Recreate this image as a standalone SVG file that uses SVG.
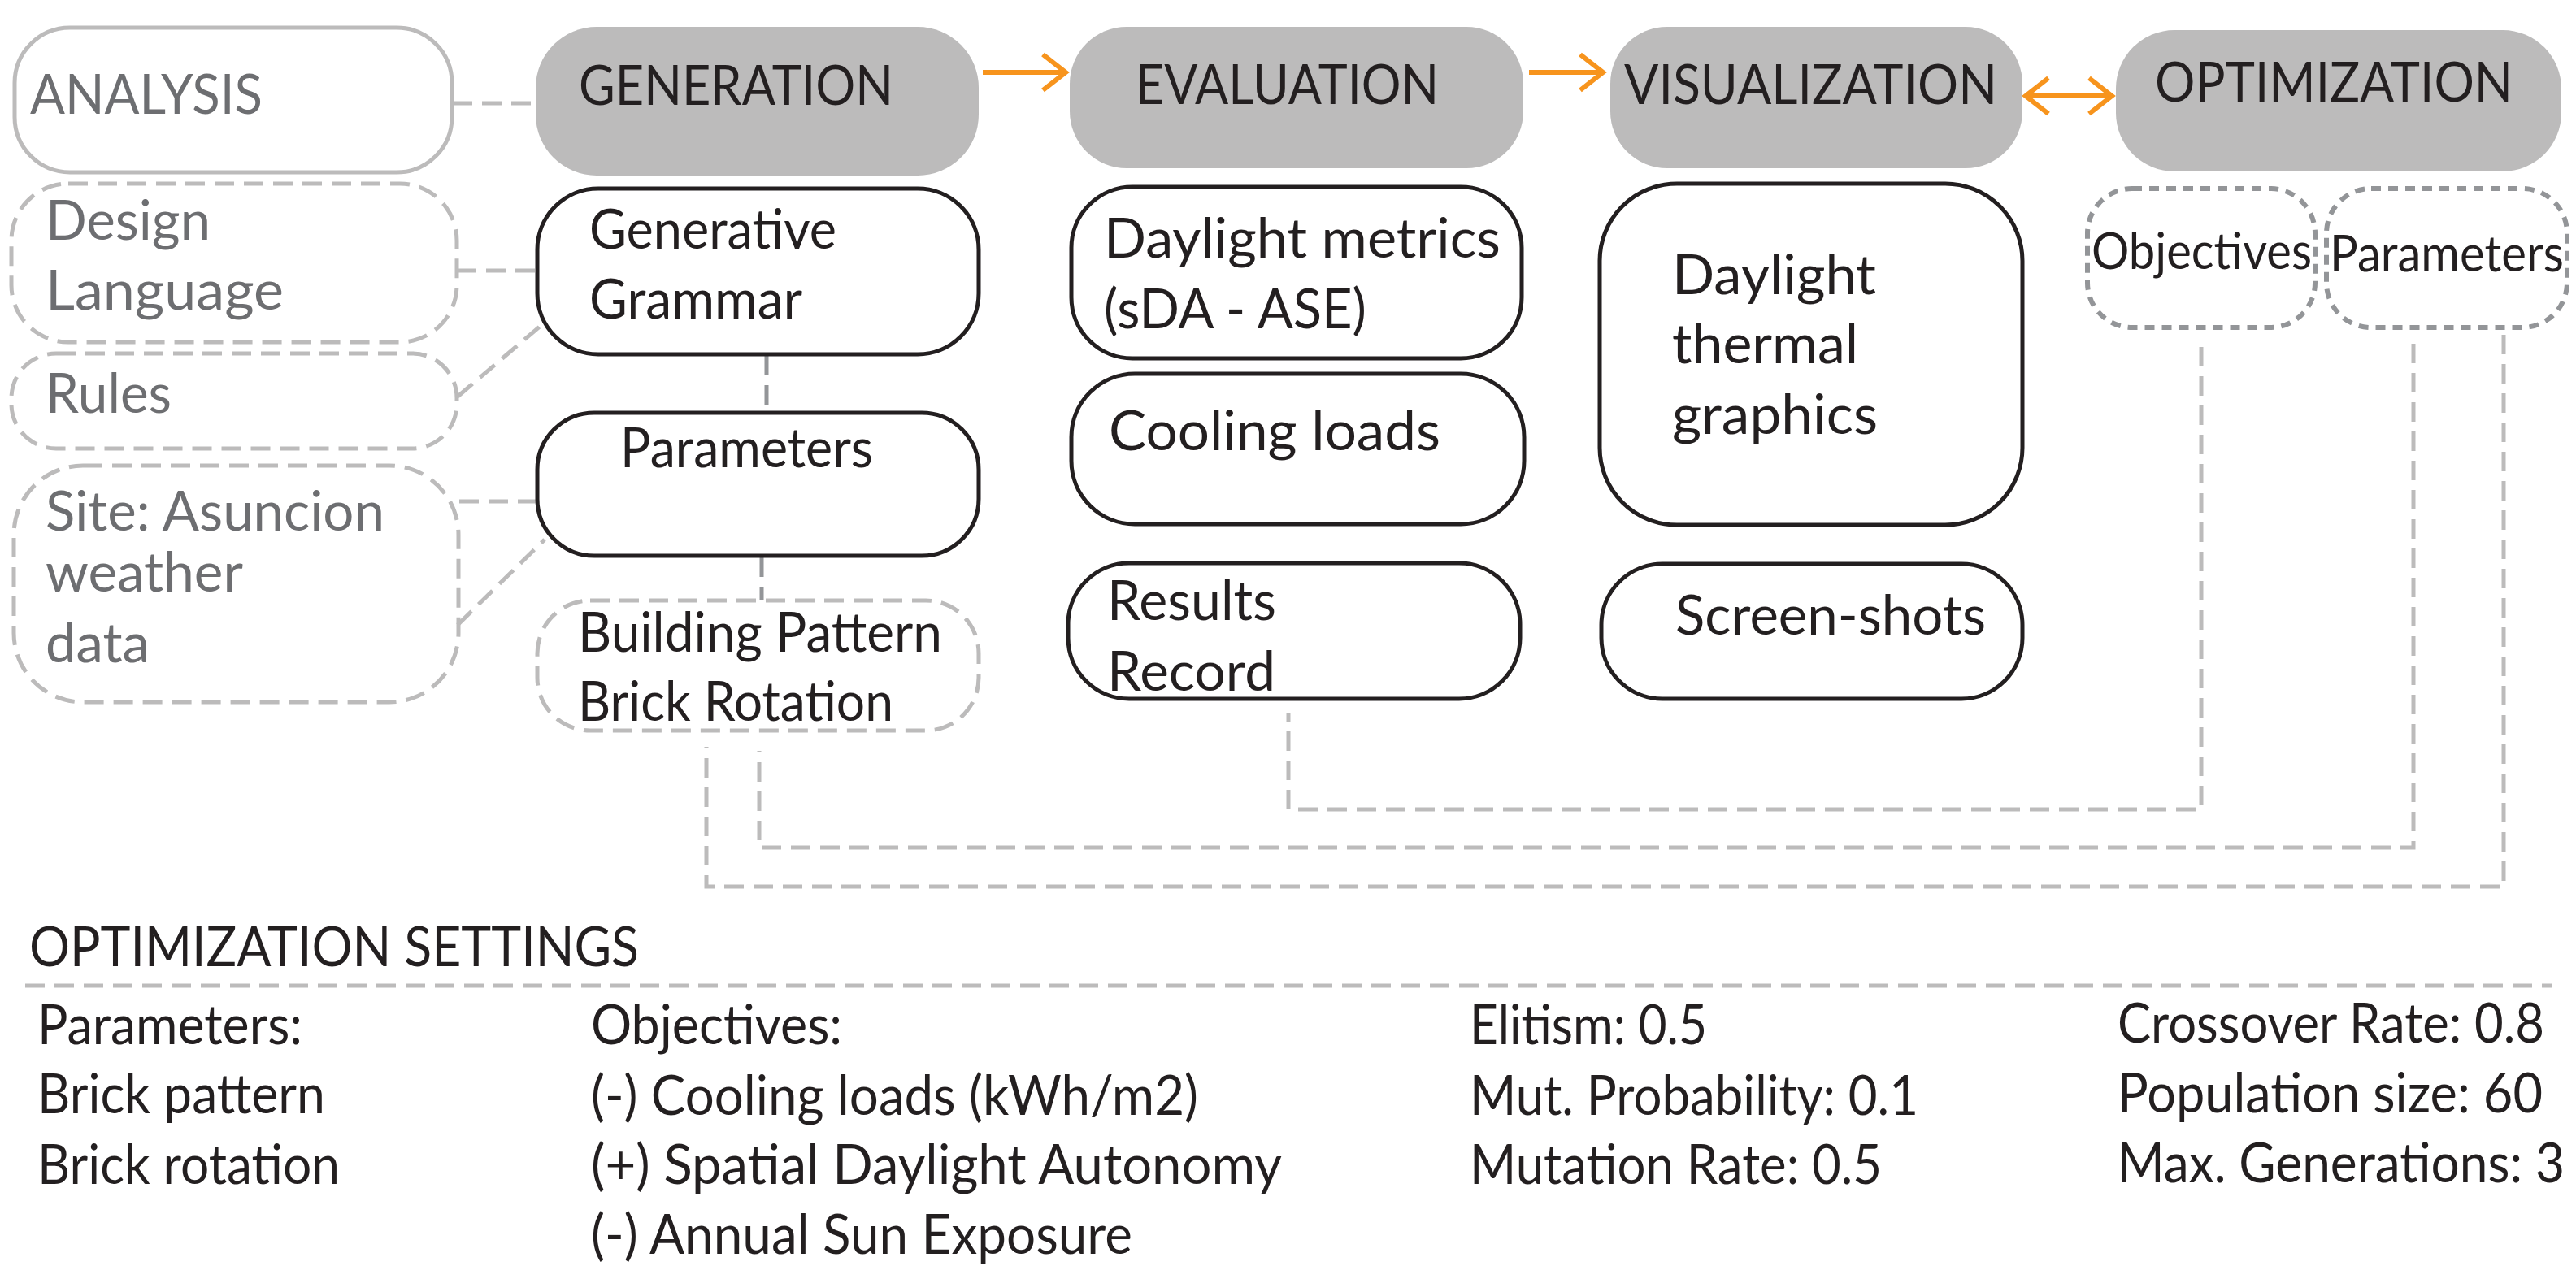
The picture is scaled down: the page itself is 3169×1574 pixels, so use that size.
<svg xmlns="http://www.w3.org/2000/svg" width="3169" height="1574" viewBox="0 0 3169 1574">
<style>
.hdr{fill:#bcbbbb}
.box{fill:#fff;stroke:#231f20;stroke-width:5}
.gbox{fill:#fff;stroke:#bcbbbb;stroke-width:5}
.dbox{fill:none;stroke:#bcbbbb;stroke-width:5;stroke-dasharray:24 12}
.obox{fill:none;stroke:#939598;stroke-width:6;stroke-dasharray:12 9}
.t{font-family:Lato,"Open Sans","Liberation Sans",sans-serif;font-size:67px;fill:#231f20}
.s{font-size:61px}
.e{text-anchor:end}
.g{fill:#6d6e71}
.c{fill:none;stroke:#bcbbbb;stroke-width:5;stroke-dasharray:24 12}
.cd{stroke:#939598}
.arr{fill:none;stroke:#f7941d;stroke-width:6}
</style>
<defs>
<marker id="chev" viewBox="-34 -28 40 56" refX="0" refY="0" markerWidth="40" markerHeight="56" markerUnits="userSpaceOnUse" orient="auto-start-reverse">
<path d="M-28 -22 L0 0 L-28 22" fill="none" stroke="#f7941d" stroke-width="6"/>
</marker>
</defs>
<rect width="3169" height="1574" fill="#fff"/>

<g id="connectors">
<path class="c" d="M557 127 H659"/>
<path class="c" d="M562 333 H659"/>
<path class="c" d="M563 488 L665 401"/>
<path class="c" d="M565 617 H659"/>
<path class="c" d="M563 769 L670 664"/>
<path class="c cd" d="M943 438 V506"/>
<path class="c cd" d="M937 686 V739"/>
<path class="c" d="M2708 427 V996 H1585 V877"/>
<path class="c" d="M2969 423 V1043 H934 V924"/>
<path class="c" d="M3080 412 V1091 H869 V919"/>
<path class="c" d="M31 1213 H3140"/>
<path class="arr" d="M1209 89 H1311" marker-end="url(#chev)"/>
<path class="arr" d="M1881 89 H1972" marker-end="url(#chev)"/>
<path class="arr" d="M2492 118 H2598" marker-start="url(#chev)" marker-end="url(#chev)"/>
</g>

<g id="analysis">
<rect class="gbox" x="18" y="34" width="538" height="178" rx="68"/>
<text class="t g" x="37" y="140" textLength="286" lengthAdjust="spacingAndGlyphs">ANALYSIS</text>
</g>
<g id="generation">
<rect class="hdr" x="659" y="33" width="545" height="183" rx="75"/>
<text class="t" x="712" y="129" textLength="387" lengthAdjust="spacingAndGlyphs">GENERATION</text>
</g>
<g id="evaluation">
<rect class="hdr" x="1316" y="33" width="558" height="174" rx="70"/>
<text class="t" x="1397" y="128" textLength="373" lengthAdjust="spacingAndGlyphs">EVALUATION</text>
</g>
<g id="visualization">
<rect class="hdr" x="1981" y="33" width="507" height="174" rx="70"/>
<text class="t" x="1998" y="128" textLength="459" lengthAdjust="spacingAndGlyphs">VISUALIZATION</text>
</g>
<g id="optimization">
<rect class="hdr" x="2603" y="37" width="548" height="174" rx="72"/>
<text class="t" x="2651" y="125" textLength="440" lengthAdjust="spacingAndGlyphs">OPTIMIZATION</text>
</g>

<g id="design-language">
<rect class="dbox" x="14" y="226" width="548" height="195" rx="70"/>
<text class="t g" x="56" y="295" textLength="203" lengthAdjust="spacingAndGlyphs">Design</text>
<text class="t g" x="56" y="381" textLength="293" lengthAdjust="spacingAndGlyphs">Language</text>
</g>
<g id="rules">
<rect class="dbox" x="14" y="435" width="548" height="117" rx="55"/>
<text class="t g" x="56" y="508" textLength="155" lengthAdjust="spacingAndGlyphs">Rules</text>
</g>
<g id="site">
<rect class="dbox" x="17" y="573" width="547" height="291" rx="85"/>
<text class="t g" x="56" y="653" textLength="417" lengthAdjust="spacingAndGlyphs">Site: Asuncion</text>
<text class="t g" x="56" y="728" textLength="243" lengthAdjust="spacingAndGlyphs">weather</text>
<text class="t g" x="56" y="815" textLength="128" lengthAdjust="spacingAndGlyphs">data</text>
</g>

<g id="generative-grammar">
<rect class="box" x="661" y="232" width="543" height="204" rx="75"/>
<text class="t" x="725" y="306" textLength="304" lengthAdjust="spacingAndGlyphs">Generative</text>
<text class="t" x="725" y="392" textLength="262" lengthAdjust="spacingAndGlyphs">Grammar</text>
</g>
<g id="parameters-gen">
<rect class="box" x="661" y="508" width="543" height="176" rx="70"/>
<text class="t" x="763" y="575" textLength="311" lengthAdjust="spacingAndGlyphs">Parameters</text>
</g>
<g id="building-pattern">
<rect class="dbox" x="661" y="739" width="543" height="160" rx="65"/>
<text class="t" x="711" y="802" textLength="448" lengthAdjust="spacingAndGlyphs">Building Pattern</text>
<text class="t" x="711" y="887" textLength="388" lengthAdjust="spacingAndGlyphs">Brick Rotation</text>
</g>

<g id="daylight-metrics">
<rect class="box" x="1318" y="230" width="554" height="211" rx="75"/>
<text class="t" x="1358" y="317" textLength="488" lengthAdjust="spacingAndGlyphs">Daylight metrics</text>
<text class="t" x="1358" y="404" textLength="323" lengthAdjust="spacingAndGlyphs">(sDA - ASE)</text>
</g>
<g id="cooling-loads">
<rect class="box" x="1318" y="460" width="557" height="185" rx="78"/>
<text class="t" x="1364" y="554" textLength="408" lengthAdjust="spacingAndGlyphs">Cooling loads</text>
</g>
<g id="results-record">
<rect class="box" x="1314" y="693" width="556" height="167" rx="75"/>
<text class="t" x="1362" y="763" textLength="208" lengthAdjust="spacingAndGlyphs">Results</text>
<text class="t" x="1362" y="850" textLength="207" lengthAdjust="spacingAndGlyphs">Record</text>
</g>

<g id="daylight-thermal-graphics">
<rect class="box" x="1968" y="226" width="520" height="420" rx="95"/>
<text class="t" x="2057" y="362" textLength="251" lengthAdjust="spacingAndGlyphs">Daylight</text>
<text class="t" x="2057" y="447" textLength="229" lengthAdjust="spacingAndGlyphs">thermal</text>
<text class="t" x="2057" y="534" textLength="253" lengthAdjust="spacingAndGlyphs">graphics</text>
</g>
<g id="screen-shots">
<rect class="box" x="1970" y="694" width="518" height="166" rx="75"/>
<text class="t" x="2061" y="781" textLength="382" lengthAdjust="spacingAndGlyphs">Screen-shots</text>
</g>

<g id="objectives-opt">
<rect class="obox" x="2568" y="232" width="280" height="171" rx="55"/>
<text class="t s" x="2573" y="331" textLength="271" lengthAdjust="spacingAndGlyphs">Objectives</text>
</g>
<g id="parameters-opt">
<rect class="obox" x="2862" y="232" width="296" height="171" rx="55"/>
<text class="t s" x="2866" y="334" textLength="288" lengthAdjust="spacingAndGlyphs">Parameters</text>
</g>

<g id="settings">
<text class="t" x="36" y="1189" textLength="750" lengthAdjust="spacingAndGlyphs">OPTIMIZATION SETTINGS</text>
<text class="t" x="46" y="1285" textLength="326" lengthAdjust="spacingAndGlyphs">Parameters:</text>
<text class="t" x="46" y="1370" textLength="354" lengthAdjust="spacingAndGlyphs">Brick pattern</text>
<text class="t" x="46" y="1457" textLength="372" lengthAdjust="spacingAndGlyphs">Brick rotation</text>
<text class="t" x="727" y="1285" textLength="309" lengthAdjust="spacingAndGlyphs">Objectives:</text>
<text class="t" x="727" y="1372" textLength="747" lengthAdjust="spacingAndGlyphs">(-) Cooling loads (kWh/m2)</text>
<text class="t" x="727" y="1457" textLength="850" lengthAdjust="spacingAndGlyphs">(+) Spatial Daylight Autonomy</text>
<text class="t" x="727" y="1543" textLength="666" lengthAdjust="spacingAndGlyphs">(-) Annual Sun Exposure</text>
<text class="t" x="1808" y="1285" textLength="292" lengthAdjust="spacingAndGlyphs">Elitism: 0.5</text>
<text class="t" x="1808" y="1372" textLength="552" lengthAdjust="spacingAndGlyphs">Mut. Probability: 0.1</text>
<text class="t" x="1808" y="1457" textLength="507" lengthAdjust="spacingAndGlyphs">Mutation Rate: 0.5</text>
<text class="t e" x="3130" y="1283" textLength="525" lengthAdjust="spacingAndGlyphs">Crossover Rate: 0.8</text>
<text class="t e" x="3128" y="1369" textLength="523" lengthAdjust="spacingAndGlyphs">Population size: 60</text>
<text class="t e" x="3155" y="1455" textLength="550" lengthAdjust="spacingAndGlyphs">Max. Generations: 3</text>
</g>
</svg>
